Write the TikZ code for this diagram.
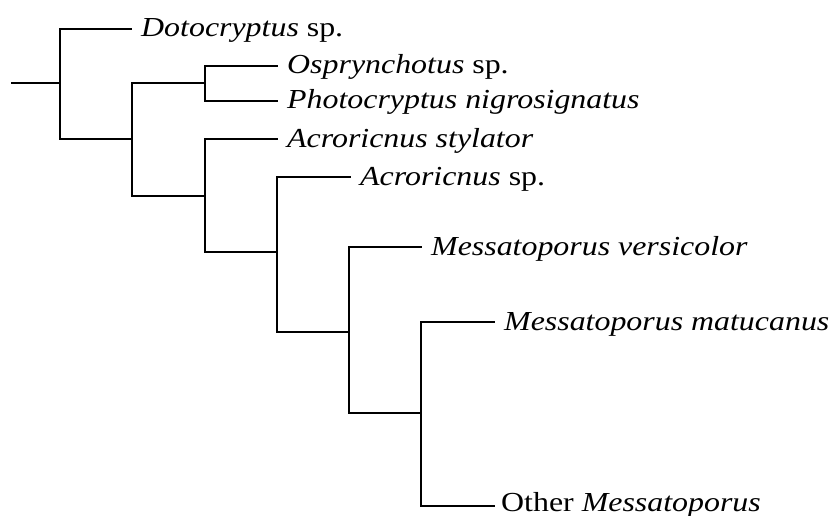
\documentclass[tikz,border=0pt]{standalone}
\usepackage{fontspec}
\setmainfont{Liberation Serif}[FakeStretch=1.16]
\begin{document}
\begin{tikzpicture}[x=1pt,y=-1pt,
  branch/.style={line width=1.8pt,line join=miter,line cap=rect},
  taxon/.style={anchor=base west,inner sep=0pt,font=\fontsize{27.5}{30}\selectfont}]
\useasboundingbox (0,0) rectangle (832,516);
% internal nodes
\coordinate (root) at (12,83);
\coordinate (n1) at (60,83);
\coordinate (n2) at (132,139);
\coordinate (n3) at (205,83);
\coordinate (n4) at (205,196);
\coordinate (n5) at (277,252);
\coordinate (n6) at (349,332);
\coordinate (n7) at (421,413);
% leaves
\coordinate (dot) at (131,29);
\coordinate (osp) at (277,66);
\coordinate (pho) at (277,101);
\coordinate (acs) at (277,139);
\coordinate (acsp) at (350,177);
\coordinate (mv) at (421,247);
\coordinate (mm) at (494,322);
\coordinate (om) at (494,506);
% branches
\draw[branch] (root) -- (n1);
\draw[branch] (n1) |- (dot);
\draw[branch] (n1) |- (n2);
\draw[branch] (n2) |- (n3);
\draw[branch] (n3) |- (osp);
\draw[branch] (n3) |- (pho);
\draw[branch] (n2) |- (n4);
\draw[branch] (n4) |- (acs);
\draw[branch] (n4) |- (n5);
\draw[branch] (n5) |- (acsp);
\draw[branch] (n5) |- (n6);
\draw[branch] (n6) |- (mv);
\draw[branch] (n6) |- (n7);
\draw[branch] (n7) |- (mm);
\draw[branch] (n7) |- (om);
% labels
\node[taxon] (tdot) at ([shift={(10,8)}]dot) {\textit{Dotocryptus} sp.};
\node[taxon] (tosp) at ([shift={(10,8)}]osp) {\textit{Osprynchotus} sp.};
\node[taxon] (tpho) at ([shift={(10,8)}]pho) {\textit{Photocryptus nigrosignatus}};
\node[taxon] (tacs) at ([shift={(10,8)}]acs) {\textit{Acroricnus stylator}};
\node[taxon] (tacsp) at ([shift={(10,8)}]acsp) {\textit{Acroricnus} sp.};
\node[taxon] (tmv) at ([shift={(10,8)}]mv) {\textit{Messatoporus versicolor}};
\node[taxon] (tmm) at ([shift={(10,8)}]mm) {\textit{Messatoporus matucanus}};
\node[taxon] (tom) at ([shift={(7,5)}]om) {Other \textit{Messatoporus}};
\end{tikzpicture}
\end{document}
